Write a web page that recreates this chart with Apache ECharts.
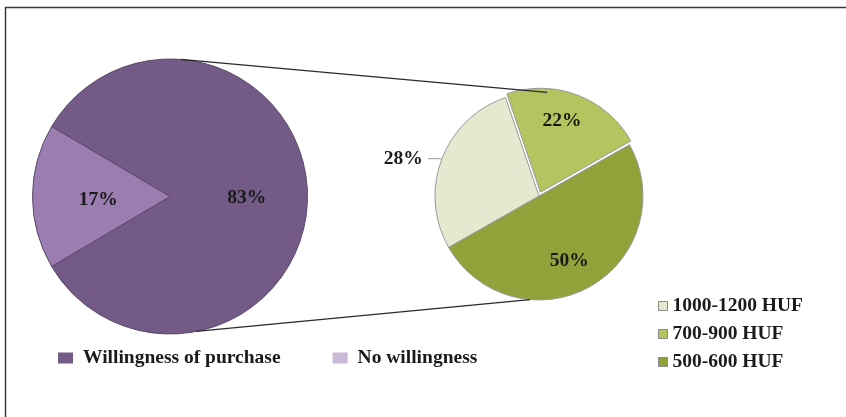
<!DOCTYPE html>
<html>
<head>
<meta charset="utf-8">
<script src="https://cdn.jsdelivr.net/npm/echarts@6/dist/echarts.min.js"></script>
<style>
  html, body { margin: 0; padding: 0; background: #ffffff; }
  #chart { width: 846px; height: 417px; }
</style>
</head>
<body>
<div id="chart"></div>
<script>
// ---- data ----
const mainCategories = ['Willingness of purchase', 'No willingness'];
const mainValues = [83, 17];
const priceCategories = ['1000-1200 HUF', '700-900 HUF', '500-600 HUF'];
const priceValues = [28, 22, 50];

// ---- styles / layout ----
const FONT = 'Liberation Serif';
const mainColors = { 'Willingness of purchase': '#735a87', 'No willingness': '#9b7db1' };
const mainLegendColors = { 'Willingness of purchase': '#735a87', 'No willingness': '#cbb8d9' };
const priceColors = { '1000-1200 HUF': '#e4e9cf', '700-900 HUF': '#b5c45e', '500-600 HUF': '#8fa33a' };
const priceOrder = ['700-900 HUF', '500-600 HUF', '1000-1200 HUF']; // clockwise drawing order
const bigCenter = [170, 196.5], bigR = 137.5;
const smallCenter = [539, 196], smallR = 104;

const mainLabelOffsets = { 'Willingness of purchase': [5, 1], 'No willingness': [0, 3] };
const priceLabelOffsets = { '700-900 HUF': [2, -20], '500-600 HUF': [3, 17] };

const chart = echarts.init(document.getElementById('chart'), null, { renderer: 'canvas' });

const labelFont = { fontFamily: FONT, fontWeight: 'bold', fontSize: 19.5, color: '#1a1a1a' };

const mainData = mainCategories.map((n, i) => ({
  name: n,
  value: mainValues[i],
  itemStyle: { color: mainColors[n] },
  label: { offset: mainLabelOffsets[n] }
}));

const priceData = priceOrder.map(n => {
  const v = priceValues[priceCategories.indexOf(n)];
  const item = { name: n, value: v, itemStyle: { color: priceColors[n] } };
  if (n === '1000-1200 HUF') {
    item.label = { position: 'outside' };
    item.labelLine = { show: true, length: 1, length2: 13, lineStyle: { color: '#9a9a9a', width: 1 } };
  } else {
    item.label = { position: 'inside', offset: priceLabelOffsets[n] };
    item.select = { label: { offset: priceLabelOffsets[n] } };
    item.labelLine = { show: false };
  }
  if (n === '700-900 HUF') item.selected = true;
  return item;
});

function pt(c, r, deg) {
  const a = deg * Math.PI / 180;
  return [c[0] + r * Math.cos(a), c[1] - r * Math.sin(a)];
}
const topA = pt(bigCenter, bigR, 85.5), topB = pt(smallCenter, smallR, 85.5);
const botA = pt(bigCenter, bigR, -79), botB = pt(smallCenter, smallR, -95);

const option = {
  backgroundColor: '#ffffff',
  animation: false,
  graphic: [
    { type: 'line', shape: { x1: 5.5, y1: 7, x2: 5.5, y2: 417 }, style: { stroke: '#3a3a3a', lineWidth: 1.5 }, z: 100 },
    { type: 'line', shape: { x1: 5, y1: 7.5, x2: 846, y2: 7.5 }, style: { stroke: '#3a3a3a', lineWidth: 1.5 }, z: 100 },
    { type: 'line', shape: { x1: topA[0], y1: topA[1], x2: topB[0], y2: topB[1] }, style: { stroke: '#2a2a2a', lineWidth: 1.3 }, z: 100 },
    { type: 'line', shape: { x1: botA[0], y1: botA[1], x2: botB[0], y2: botB[1] }, style: { stroke: '#2a2a2a', lineWidth: 1.3 }, z: 100 }
  ],
  legend: [
    {
      orient: 'horizontal',
      left: 53, top: 343,
      itemWidth: 15, itemHeight: 11, itemGap: 52,
      icon: 'rect',
      selectedMode: false,
      textStyle: Object.assign({}, labelFont, { padding: [0, 0, 0, 5] }),
      data: mainCategories.map(n => ({ name: n, itemStyle: { color: mainLegendColors[n], borderWidth: 0 } }))
    },
    {
      orient: 'vertical',
      left: 653, top: 291,
      itemWidth: 9, itemHeight: 9, itemGap: 8,
      icon: 'rect',
      selectedMode: false,
      textStyle: labelFont,
      data: priceCategories.map(n => ({ name: n, itemStyle: { color: priceColors[n], borderColor: '#8a8a8a', borderWidth: 1 } }))
    }
  ],
  series: [
    {
      type: 'pie',
      center: bigCenter,
      radius: [0, bigR],
      startAngle: 149.4,
      clockwise: true,
      avoidLabelOverlap: false,
      emphasis: { disabled: true },
      label: Object.assign({ show: true, position: 'inside', formatter: '{c}%' }, labelFont),
      labelLine: { show: false },
      itemStyle: { borderColor: '#5a4868', borderWidth: 1 },
      data: mainData
    },
    {
      type: 'pie',
      center: smallCenter,
      radius: [0, smallR],
      startAngle: 108.8,
      clockwise: true,
      avoidLabelOverlap: false,
      selectedMode: 'single',
      selectedOffset: 4,
      emphasis: { disabled: true },
      select: { itemStyle: { borderColor: '#9a9a9a', borderWidth: 1 } },
      label: Object.assign({ show: true, formatter: '{c}%' }, labelFont),
      itemStyle: { borderColor: '#9a9a9a', borderWidth: 1 },
      data: priceData
    }
  ]
};
chart.setOption(option);
</script>
</body>
</html>
